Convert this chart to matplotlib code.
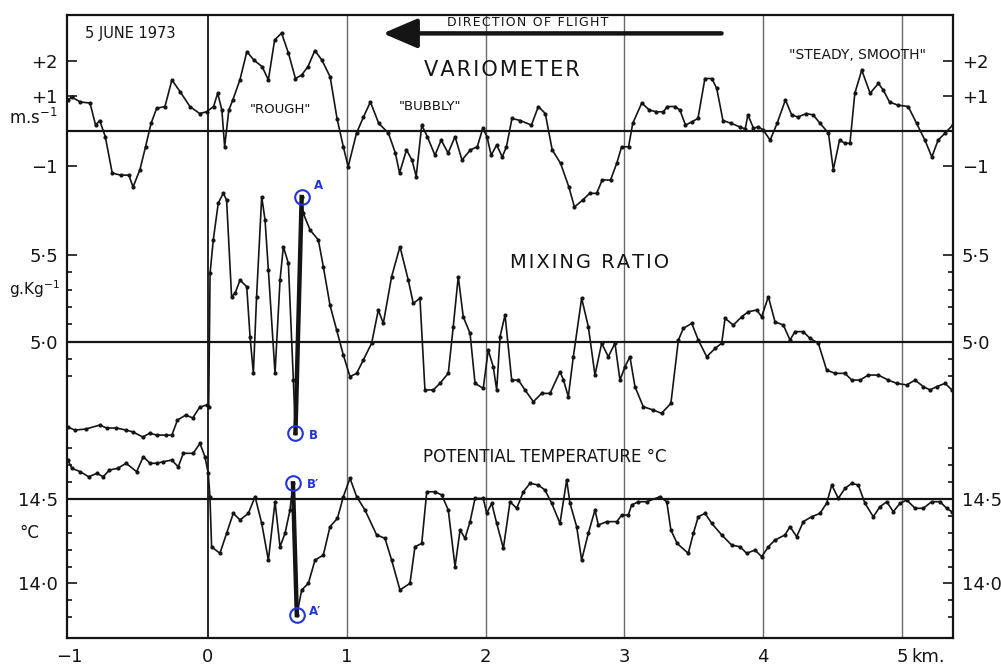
import matplotlib
matplotlib.use("Agg")
import matplotlib.pyplot as plt

plt.rcParams['font.family'] = ['DejaVu Sans']

# Distance along the flight track (km) and the three aircraft records
vario_km = [-1.01, -0.98, -0.92, -0.85, -0.81, -0.78, -0.74, -0.69, -0.63, -0.57, -0.54, -0.49,
            -0.45, -0.41, -0.37, -0.31, -0.26, -0.20, -0.13, -0.06, -0.01, 0.04, 0.07, 0.10,
            0.12, 0.15, 0.18, 0.23, 0.28, 0.33, 0.39, 0.435, 0.48, 0.53, 0.58, 0.63, 0.675,
            0.72, 0.77, 0.82, 0.88, 0.93, 0.975, 1.01, 1.07, 1.12, 1.17, 1.23, 1.30, 1.35,
            1.38, 1.43, 1.47, 1.50, 1.54, 1.58, 1.635, 1.68, 1.73, 1.78, 1.83, 1.89, 1.94,
            1.98, 2.01, 2.04, 2.08, 2.12, 2.15, 2.19, 2.25, 2.33, 2.38, 2.43, 2.48, 2.54,
            2.60, 2.64, 2.70, 2.75, 2.80, 2.84, 2.90, 2.945, 2.98, 3.03, 3.06, 3.125, 3.18,
            3.23, 3.28, 3.31, 3.365, 3.40, 3.44, 3.485, 3.53, 3.58, 3.63, 3.665, 3.71, 3.77,
            3.83, 3.87, 3.89, 3.93, 3.965, 4.00, 4.05, 4.10, 4.16, 4.205, 4.25, 4.31, 4.36,
            4.41, 4.47, 4.505, 4.55, 4.59, 4.625, 4.66, 4.71, 4.77, 4.83, 4.865, 4.91, 4.97,
            5.045, 5.105, 5.165, 5.215, 5.26, 5.31, 5.365]
vario_ms = [0.89, 0.97, 0.83, 0.80, 0.17, 0.30, -0.16, -1.20, -1.26, -1.26, -1.60, -1.10,
            -0.45, 0.22, 0.65, 0.70, 1.46, 1.12, 0.70, 0.50, 0.55, 0.70, 1.08, 0.60,
            -0.45, 0.60, 0.90, 1.46, 2.27, 2.03, 1.84, 1.46, 2.60, 2.80, 2.22, 1.50, 1.60,
            1.84, 2.30, 2.03, 1.55, 0.35, -0.45, -1.02, -0.06, 0.40, 0.83, 0.22, -0.06, -0.63,
            -1.20, -0.54, -0.83, -1.30, 0.17, -0.16, -0.69, -0.26, -0.63, -0.16, -0.83, -0.54, -0.45,
            0.08, -0.16, -0.69, -0.40, -0.74, -0.45, 0.36, 0.30, 0.17, 0.70, 0.50, -0.54, -0.92,
            -1.60, -2.17, -1.97, -1.78, -1.78, -1.40, -1.40, -0.92, -0.45, -0.45, 0.22, 0.80, 0.60,
            0.55, 0.55, 0.70, 0.70, 0.60, 0.17, 0.26, 0.36, 1.50, 1.50, 1.22, 0.30, 0.22,
            0.12, 0.06, 0.46, 0.08, 0.12, 0.03, -0.26, 0.22, 0.89, 0.46, 0.40, 0.50, 0.46,
            0.22, -0.06, -1.10, -0.26, -0.35, -0.35, 1.08, 1.74, 1.08, 1.36, 1.17, 0.83, 0.74,
            0.70, 0.22, -0.26, -0.74, -0.26, -0.06, 0.17]

mix_km = [-1.01, -0.96, -0.88, -0.78, -0.73, -0.66, -0.59, -0.54, -0.47, -0.42, -0.37, -0.30,
          -0.26, -0.22, -0.16, -0.11, -0.06, -0.01, 0.005, 0.015, 0.038, 0.074, 0.110, 0.134,
          0.170, 0.195, 0.231, 0.279, 0.303, 0.327, 0.350, 0.387, 0.411, 0.435, 0.483, 0.519,
          0.543, 0.579, 0.615, 0.630, 0.675, 0.687, 0.735, 0.795, 0.831, 0.879, 0.927, 0.975,
          1.023, 1.071, 1.119, 1.179, 1.227, 1.263, 1.323, 1.383, 1.443, 1.479, 1.527, 1.563,
          1.623, 1.671, 1.731, 1.767, 1.803, 1.839, 1.888, 1.924, 1.983, 2.019, 2.055, 2.080,
          2.104, 2.140, 2.188, 2.236, 2.284, 2.344, 2.404, 2.464, 2.536, 2.560, 2.596, 2.632,
          2.692, 2.740, 2.788, 2.836, 2.884, 2.932, 2.968, 3.004, 3.040, 3.076, 3.136, 3.208,
          3.268, 3.335, 3.389, 3.425, 3.485, 3.532, 3.593, 3.653, 3.701, 3.725, 3.785, 3.845,
          3.893, 3.953, 3.989, 4.037, 4.085, 4.145, 4.193, 4.229, 4.289, 4.337, 4.397, 4.457,
          4.517, 4.589, 4.638, 4.698, 4.757, 4.829, 4.901, 4.962, 5.034, 5.094, 5.154, 5.202,
          5.250, 5.310, 5.360]
mix_gkg = [4.506, 4.488, 4.494, 4.517, 4.50, 4.50, 4.488, 4.477, 4.448, 4.47, 4.459, 4.459,
           4.459, 4.546, 4.575, 4.558, 4.62, 4.633, 4.623, 5.394, 5.587, 5.80, 5.857, 5.818,
           5.259, 5.279, 5.355, 5.317, 5.028, 4.816, 5.259, 5.837, 5.702, 5.413, 4.816, 5.355,
           5.548, 5.452, 4.777, 4.471, 5.835, 5.74, 5.645, 5.587, 5.432, 5.21, 5.066, 4.922,
           4.797, 4.816, 4.893, 4.99, 5.182, 5.105, 5.375, 5.548, 5.355, 5.22, 5.25, 4.72,
           4.72, 4.758, 4.816, 5.086, 5.375, 5.143, 5.047, 4.758, 4.729, 4.951, 4.854, 4.72,
           5.028, 5.153, 4.777, 4.777, 4.72, 4.652, 4.70, 4.70, 4.825, 4.78, 4.681, 4.912,
           5.25, 5.086, 4.806, 4.99, 4.912, 4.99, 4.777, 4.854, 4.912, 4.739, 4.623, 4.604,
           4.585, 4.643, 5.009, 5.076, 5.105, 5.009, 4.912, 4.96, 4.99, 5.134, 5.095, 5.143,
           5.172, 5.182, 5.143, 5.259, 5.114, 5.095, 5.009, 5.057, 5.057, 5.018, 4.99, 4.835,
           4.816, 4.816, 4.777, 4.777, 4.806, 4.806, 4.777, 4.758, 4.749, 4.777, 4.739, 4.72,
           4.739, 4.758, 4.72]

theta_km = [-1.01, -0.98, -0.92, -0.86, -0.80, -0.755, -0.71, -0.65, -0.59, -0.514, -0.466, -0.418,
            -0.37, -0.322, -0.262, -0.214, -0.178, -0.106, -0.058, -0.022, 0.002, 0.014, 0.026,
            0.086, 0.134, 0.182, 0.231, 0.291, 0.339, 0.387, 0.435, 0.483, 0.519, 0.555, 0.591,
            0.612, 0.640, 0.675, 0.723, 0.771, 0.831, 0.879, 0.933, 0.975, 1.023, 1.071, 1.131,
            1.215, 1.275, 1.323, 1.383, 1.455, 1.491, 1.540, 1.576, 1.635, 1.684, 1.731, 1.780,
            1.816, 1.852, 1.888, 1.924, 1.983, 2.008, 2.044, 2.080, 2.128, 2.176, 2.224, 2.272,
            2.320, 2.380, 2.428, 2.476, 2.536, 2.584, 2.608, 2.656, 2.692, 2.740, 2.788, 2.812,
            2.873, 2.945, 2.981, 3.028, 3.052, 3.100, 3.161, 3.256, 3.305, 3.335, 3.380, 3.460,
            3.497, 3.532, 3.581, 3.629, 3.701, 3.773, 3.833, 3.881, 3.941, 3.989, 4.037, 4.085,
            4.157, 4.193, 4.241, 4.289, 4.349, 4.409, 4.457, 4.494, 4.541, 4.589, 4.638, 4.685,
            4.733, 4.793, 4.841, 4.890, 4.937, 4.986, 5.034, 5.094, 5.153, 5.214, 5.274, 5.322,
            5.358]
theta_c = [14.731, 14.682, 14.662, 14.632, 14.652, 14.632, 14.672, 14.682, 14.712, 14.662, 14.751,
           14.712, 14.712, 14.721, 14.731, 14.691, 14.771, 14.771, 14.83, 14.751, 14.652, 14.514,
           14.217, 14.178, 14.297, 14.415, 14.376, 14.415, 14.514, 14.356, 14.138, 14.484, 14.217,
           14.297, 14.435, 14.593, 13.812, 13.961, 14.0, 14.138, 14.168, 14.336, 14.386, 14.514,
           14.623, 14.514, 14.435, 14.287, 14.267, 14.138, 13.961, 14.0, 14.217, 14.237, 14.543,
           14.543, 14.524, 14.435, 14.099, 14.316, 14.267, 14.366, 14.504, 14.504, 14.415, 14.475,
           14.356, 14.208, 14.484, 14.445, 14.543, 14.593, 14.583, 14.553, 14.475, 14.356, 14.613,
           14.475, 14.336, 14.138, 14.297, 14.435, 14.346, 14.366, 14.366, 14.405, 14.405, 14.464,
           14.484, 14.484, 14.514, 14.484, 14.316, 14.237, 14.178, 14.297, 14.395, 14.415, 14.356,
           14.287, 14.227, 14.217, 14.178, 14.198, 14.158, 14.217, 14.257, 14.287, 14.336, 14.277,
           14.366, 14.395, 14.415, 14.475, 14.583, 14.504, 14.563, 14.593, 14.583, 14.475, 14.395,
           14.454, 14.484, 14.425, 14.475, 14.494, 14.445, 14.445, 14.484, 14.484, 14.445, 14.425]

# Axis ticks and labels
x_ticks = [-1, 0, 1, 2, 3, 4, 5]
x_tick_labels = ['\u22121', '0', '1', '2', '3', '4', '5']
vario_ticks = [-1, 1, 2]
vario_tick_labels = ['\u22121', '+1', '+2']
mix_ticks = [5.0, 5.5]
mix_tick_labels = ['5\u00b70', '5\u00b75']
mix_minor = [4.8, 4.9, 5.1, 5.2, 5.3, 5.4]
theta_ticks = [14.0, 14.5]
theta_tick_labels = ['14\u00b70', '14\u00b75']
theta_minor = [13.8, 13.9, 14.1, 14.2, 14.3, 14.4, 14.6, 14.7, 14.8]

# Highlighted samples at the edge of the thermal
point_a_km, point_b_km = 0.675, 0.630
point_b2_km, point_a2_km = 0.612, 0.640

ink = '#141414'
blue = '#2233dd'


def spaced(text, gap='\u200a'):
    """Open up the lettering of a heading with hair spaces."""
    return gap.join(text)


fig = plt.figure(figsize=(10.01, 6.66), dpi=100)
rect = [0.0669, 0.0420, 0.8851, 0.9354]
ax_t = fig.add_axes(rect)
ax_m = fig.add_axes(rect, sharex=ax_t)
ax_v = fig.add_axes(rect, sharex=ax_t)

ax_t.set_xlim(-1.016, 5.367)
ax_v.set_ylim(-14.486, 3.314)
ax_m.set_ylim(3.286, 6.887)
ax_t.set_ylim(13.676, 17.369)

for a in (ax_m, ax_v):
    a.patch.set_visible(False)
    for s in a.spines.values():
        s.set_visible(False)
    a.tick_params(axis='x', which='both', bottom=False, labelbottom=False)
for s in ax_t.spines.values():
    s.set_linewidth(1.6)
    s.set_color(ink)

for a in (ax_t, ax_m, ax_v):
    a.tick_params(axis='y', which='both', direction='in', left=True, right=True,
                  labelleft=True, labelright=True, labelsize=13, pad=6.5,
                  width=1.2, colors=ink)
    a.tick_params(axis='y', which='major', length=7)
    a.tick_params(axis='y', which='minor', length=3.5)

ax_v.set_yticks(vario_ticks, vario_tick_labels)
ax_m.set_yticks(mix_ticks, mix_tick_labels)
ax_m.set_yticks(mix_minor, minor=True)
ax_t.set_yticks(theta_ticks, theta_tick_labels)
ax_t.set_yticks(theta_minor, minor=True)
ax_t.set_xticks(x_ticks, x_tick_labels)
ax_t.tick_params(axis='x', length=0, pad=7, labelsize=13, colors=ink)
ax_t.annotate('km.', xy=(5, 0), xycoords=('data', 'axes fraction'), xytext=(7, -7),
              textcoords='offset points', ha='left', va='top', fontsize=13, color=ink)

# Distance grid
for xv in x_ticks[1:]:
    if xv == 0:
        ax_t.axvline(xv, color=ink, lw=1.3, zorder=1)
    else:
        ax_t.axvline(xv, color='#6a6a6a', lw=1.0, zorder=1)

# Reference levels
ax_v.axhline(0, color=ink, lw=1.6, zorder=1)
ax_m.axhline(5.0, color=ink, lw=1.6, zorder=1)
ax_t.axhline(14.5, color=ink, lw=1.6, zorder=1)

line_kw = dict(color=ink, lw=1.2, marker='o', ms=2.0, zorder=3)
ax_v.plot(vario_km, vario_ms, **line_kw)
ax_m.plot(mix_km, mix_gkg, **line_kw)
ax_t.plot(theta_km, theta_c, **line_kw)

# Sharp edge of the thermal: thick jumps and ringed samples
ia, ib = mix_km.index(point_a_km), mix_km.index(point_b_km)
ax_m.plot([mix_km[ib], mix_km[ia]], [mix_gkg[ib], mix_gkg[ia]], color=ink, lw=3.2, zorder=4)
ib2, ia2 = theta_km.index(point_b2_km), theta_km.index(point_a2_km)
ax_t.plot([theta_km[ib2], theta_km[ia2]], [theta_c[ib2], theta_c[ia2]], color=ink, lw=3.2, zorder=4)

ring = dict(ls='none', marker='o', ms=10.5, mfc='none', mec=blue, mew=1.5, zorder=5)
ax_m.plot([mix_km[ia], mix_km[ib]], [mix_gkg[ia], mix_gkg[ib]], **ring)
ax_t.plot([theta_km[ib2], theta_km[ia2]], [theta_c[ib2], theta_c[ia2]], **ring)
lab = dict(textcoords='offset points', fontsize=8.5, color=blue, fontweight='bold')
ax_m.annotate('A', (mix_km[ia], mix_gkg[ia]), xytext=(9, 6), **lab)
ax_m.annotate('B', (mix_km[ib], mix_gkg[ib]), xytext=(10, -4), **lab)
ax_t.annotate("B\u2032", (theta_km[ib2], theta_c[ib2]), xytext=(10, -3), **lab)
ax_t.annotate("A\u2032", (theta_km[ia2], theta_c[ia2]), xytext=(9, 0), **lab)

# Axis units
ax_v.annotate('m.s$^{-1}$', xy=(0, 0.1), xycoords=('axes fraction', 'data'), xytext=(-7, 0),
              textcoords='offset points', ha='right', va='bottom', fontsize=12, color=ink)
ax_m.annotate('g.Kg$^{-1}$', xy=(0, 5.3), xycoords=('axes fraction', 'data'), xytext=(-5, 0),
              textcoords='offset points', ha='right', va='center', fontsize=11, color=ink)
ax_t.annotate('\u00b0C', xy=(0, 14.3), xycoords=('axes fraction', 'data'), xytext=(-20, 0),
              textcoords='offset points', ha='right', va='center', fontsize=12, color=ink)

# Panel titles and remarks
ax_v.text(-0.886, 2.8, '5 JUNE 1973', fontsize=10.5, ha='left', va='center', color=ink)
ax_v.text(2.30, 3.09, spaced('DIRECTION OF FLIGHT'), fontsize=9, ha='center', va='center',
          color=ink)
ax_v.annotate('', xy=(1.26, 2.79), xytext=(3.70, 2.79),
              arrowprops=dict(arrowstyle='-|>,head_length=0.7,head_width=0.3',
                              lw=3.2, color=ink, mutation_scale=30, shrinkA=0, shrinkB=0))
ax_v.text(2.118, 1.74, spaced('VARIOMETER'), fontsize=15, ha='center', va='center', color=ink)
ax_v.text(0.52, 0.62, '"ROUGH"', fontsize=9.5, ha='center', va='center', color=ink)
ax_v.text(1.60, 0.69, '"BUBBLY"', fontsize=9.5, ha='center', va='center', color=ink)
ax_v.text(4.676, 2.17, '"STEADY, SMOOTH"', fontsize=10, ha='center', va='center', color=ink)
ax_m.text(2.752, 5.454, spaced('MIXING RATIO'), fontsize=14, ha='center', va='center',
          color=ink)
ax_t.text(2.428, 14.749, 'POTENTIAL TEMPERATURE \u00b0C', fontsize=12, ha='center',
          va='center', color=ink)

fig.savefig('out.png', dpi=100)
